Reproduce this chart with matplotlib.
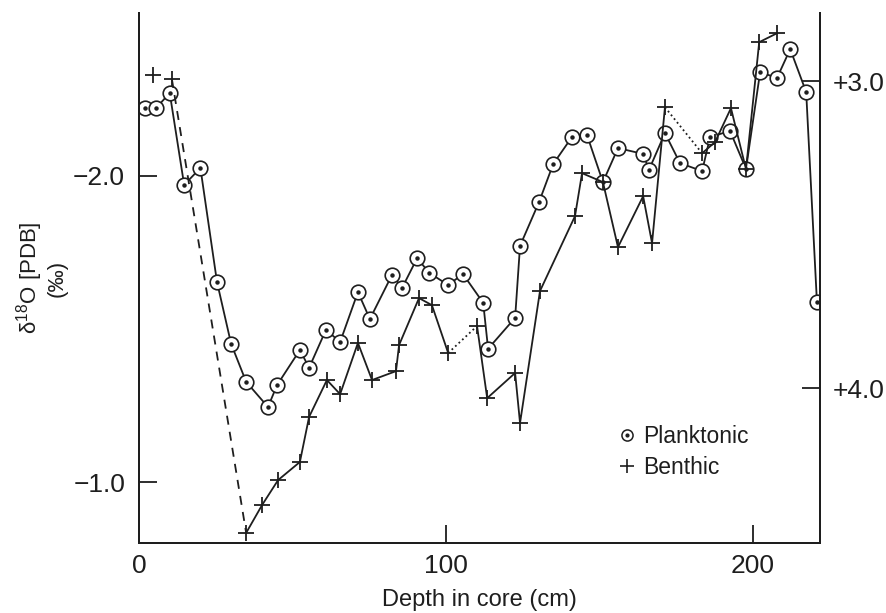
import matplotlib.pyplot as plt
from matplotlib.lines import Line2D
from matplotlib.legend_handler import HandlerTuple

plt.rcParams['font.family'] = ['Liberation Sans', 'DejaVu Sans']
plt.rcParams['mathtext.fontset'] = 'custom'
plt.rcParams['mathtext.rm'] = 'Liberation Sans'

INK = '#1e1e1e'

# planktonic foraminifera, left axis
depth_plank = [2, 5.5, 10, 14.7, 20, 25.4, 30, 34.9, 42, 45, 52.4, 55.4, 60.9, 65.5,
               71.3, 75.2, 82.4, 85.7, 90.6, 94.5, 100.7, 105.5, 112.1, 113.7, 122.5,
               124.1, 130.3, 134.9, 141, 145.9, 151.1, 156, 164.2, 166.1, 171.3, 176.2,
               183.4, 186, 192.5, 197.7, 202.3, 207.8, 212.1, 217.3, 220.8]
d18o_plank = [-2.22, -2.22, -2.27, -1.97, -2.025, -1.653, -1.451, -1.327, -1.245, -1.317,
              -1.431, -1.373, -1.497, -1.457, -1.62, -1.532, -1.676, -1.634, -1.731,
              -1.683, -1.643, -1.679, -1.585, -1.435, -1.536, -1.771, -1.914, -2.038,
              -2.126, -2.133, -1.979, -2.09, -2.071, -2.019, -2.139, -2.041, -2.015,
              -2.126, -2.146, -2.022, -2.338, -2.319, -2.413, -2.273, -1.588]

# benthic foraminifera, right axis
depth_benth = [4.6, 10.7, 34.9, 40.1, 45.3, 52.4, 55.4, 61.2, 65.5, 71.3, 75.9, 83.7,
               84.7, 91.2, 95.4, 100.7, 110.1, 113.4, 122.5, 124.1, 130.6, 142, 144.3,
               151.1, 156, 164.2, 167.1, 171.3, 183.4, 187.6, 192.8, 197.7, 202, 207.8]
d18o_benth = [2.98, 2.993, 4.472, 4.381, 4.3, 4.241, 4.094, 3.974, 4.02, 3.853, 3.974,
              3.945, 3.86, 3.707, 3.73, 3.886, 3.798, 4.033, 3.951, 4.114, 3.684, 3.44,
              3.3, 3.329, 3.541, 3.375, 3.528, 3.085, 3.235, 3.199, 3.088, 3.287, 2.873,
              2.844]

# how the benthic record is joined: (first index, last index, linestyle)
benth_links = [(1, 2, (0, (5, 4))), (2, 15, '-'), (15, 16, ':'), (16, 27, '-'),
               (27, 28, ':'), (28, 33, '-')]

fig = plt.figure(figsize=(8.86, 6.13), dpi=100)
ax = fig.add_axes([0.1569, 0.1142, 0.7686, 0.8646])
ax2 = ax.twinx()

ax.plot(depth_plank, d18o_plank, color=INK, lw=1.3, marker='o', ms=10.5,
        mfc='white', mec=INK, mew=1.2)
ax.plot(depth_plank, d18o_plank, ls='none', marker='o', ms=2.2, color=INK)

for i0, i1, ls in benth_links:
    ax2.plot(depth_benth[i0:i1 + 1], d18o_benth[i0:i1 + 1], color=INK, lw=1.3, ls=ls)
ax2.plot(depth_benth, d18o_benth, ls='none', marker='+', ms=11, mew=1.3, color=INK)

ax.set_xlim(0, 221.8)
ax.set_ylim(-0.801, -2.531)
ax2.set_ylim(4.505, 2.778)

ax.set_xticks([0, 100, 200])
ax.set_yticks([-2.0, -1.0])
ax.set_yticklabels(['\u22122.0', '\u22121.0'])
ax2.set_yticks([3.0, 4.0])
ax2.set_yticklabels(['+3.0', '+4.0'])

for a in (ax, ax2):
    a.spines['top'].set_visible(False)
    for s in a.spines.values():
        s.set_linewidth(1.4)
        s.set_color(INK)
    a.tick_params(direction='in', length=13, width=1.3, color=INK,
                  labelsize=19, labelcolor=INK)
ax.tick_params(axis='y', pad=10)
ax.tick_params(axis='x', pad=8)
ax2.tick_params(axis='y', pad=9)

ax.set_xlabel('Depth in core (cm)', fontsize=17, color=INK, labelpad=8)
ax.set_ylabel('\u03b4$^{18}$O [PDB]\n(\u2030)', fontsize=16, color=INK,
              labelpad=4, linespacing=1.12)

h_plank = (Line2D([], [], ls='none', marker='o', ms=8, mfc='white', mec=INK, mew=1.1),
           Line2D([], [], ls='none', marker='o', ms=2, color=INK))
h_benth = Line2D([], [], ls='none', marker='+', ms=10, mew=1.2, color=INK)
ax2.legend([h_plank, h_benth], ['Planktonic', 'Benthic'],
           handler_map={tuple: HandlerTuple(ndivide=1)},
           loc='upper left', bbox_to_anchor=(0.69, 0.245), frameon=False,
           fontsize=16.5, handlelength=0.6, handletextpad=0.4, labelspacing=0.35,
           borderpad=0, labelcolor=INK)

fig.savefig('out.png', dpi=100)
